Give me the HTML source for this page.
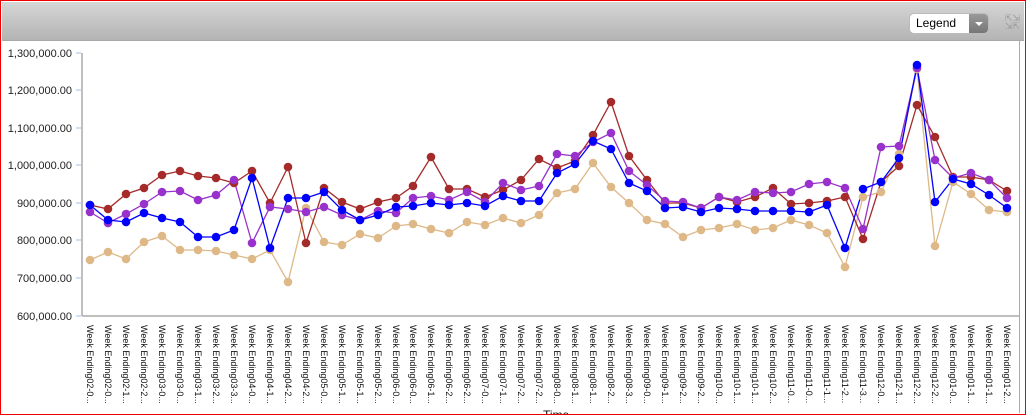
<!DOCTYPE html>
<html><head><meta charset="utf-8"><style>
html,body{margin:0;padding:0;background:#fff}
#w{position:relative;width:1024px;height:413px;border:1px solid #e00;overflow:hidden;font-family:"Liberation Sans",Arial,sans-serif}
#hd{position:absolute;left:1px;top:1px;width:1022px;height:38px;background:linear-gradient(#d6d6d6,#b4b4b4);border-bottom:1px solid #a9a9a9}
#lg{position:absolute;left:907px;top:11px;width:78px;height:19px;border-radius:5px;background:#fff;border:1px solid #bbb;overflow:hidden}
#lg span{position:absolute;left:6px;top:2px;font-size:12px;color:#000}
#lg i{position:absolute;right:0;top:0;width:19px;height:19px;background:linear-gradient(#999,#777)}
#lg i:after{content:"";position:absolute;left:6px;top:8px;border-left:4px solid transparent;border-right:4px solid transparent;border-top:4px solid #fff}
svg{position:absolute;left:0;top:0}
</style></head><body><div id="w">
<div id="hd"><div id="lg"><span>Legend</span><i></i></div>
<div style="position:absolute;left:1003px;top:12px;font-size:9px;color:#999;line-height:8px">⇱⇲<br>⇲⇱</div></div>
<svg width="1024" height="413" viewBox="1 1 1024 413">
<rect x="1019" y="40" width="1" height="373" fill="#aaa"/>
<g font-size="11" fill="#222" text-anchor="end">
<text x="72" y="57">1,300,000.00</text><text x="72" y="94">1,200,000.00</text><text x="72" y="132">1,100,000.00</text><text x="72" y="169">1,000,000.00</text><text x="72" y="207">900,000.00</text><text x="72" y="244">800,000.00</text><text x="72" y="282">700,000.00</text><text x="72" y="320">600,000.00</text>
</g>
<g stroke="#cfe0f0" stroke-width="2"><line x1="76" x2="81" y1="53" y2="53"/><line x1="76" x2="81" y1="90" y2="90"/><line x1="76" x2="81" y1="128" y2="128"/><line x1="76" x2="81" y1="165" y2="165"/><line x1="76" x2="81" y1="203" y2="203"/><line x1="76" x2="81" y1="240" y2="240"/><line x1="76" x2="81" y1="278" y2="278"/><line x1="76" x2="81" y1="316" y2="316"/></g>
<line x1="82" y1="53" x2="82" y2="316" stroke="#aaa" stroke-width="1.5"/>
<line x1="82" y1="316" x2="1019" y2="316" stroke="#aaa" stroke-width="1.5"/>
<g fill="none" stroke-width="1.3">
<polyline stroke="#deb887" points="90,260 108,252 126,259 144,242 162,236 180,250 198,250 216,251 234,255 252,259 270,250 288,282 306,208 324,242 342,245 360,234 378,238 396,226 413,224 431,229 449,233 467,222 485,225 503,218 521,223 539,215 557,193 575,189 593,163 611,187 629,203 647,220 665,224 683,237 701,230 719,228 737,224 755,230 773,228 791,220 809,225 827,233 845,267 863,197 881,192 899,154 917,69 935,246 953,182 971,194 989,210 1007,212"/>
<polyline stroke="#a52a2a" points="90,205 108,209 126,194 144,188 162,175 180,171 198,176 216,178 234,183 252,171 270,203 288,167 306,243 324,188 342,202 360,209 378,202 396,198 413,186 431,157 449,189 467,189 485,197 503,190 521,180 539,159 557,168 575,161 593,135 611,102 629,156 647,180 665,203 683,203 701,208 719,197 737,202 755,197 773,188 791,204 809,203 827,201 845,197 863,239 881,182 899,166 917,105 935,137 953,177 971,177 989,180 1007,191"/>
<polyline stroke="#9932cc" points="90,212 108,223 126,214 144,204 162,192 180,191 198,200 216,195 234,180 252,243 270,207 288,209 306,212 324,207 342,215 360,220 378,211 396,213 413,198 431,196 449,200 467,192 485,202 503,183 521,190 539,186 557,154 575,156 593,142 611,133 629,171 647,185 665,201 683,202 701,208 719,197 737,200 755,192 773,193 791,192 809,184 827,182 845,188 863,229 881,147 899,146 917,68 935,160 953,178 971,173 989,180 1007,198"/>
<polyline stroke="#0000ff" points="90,205 108,220 126,222 144,213 162,218 180,222 198,237 216,237 234,230 252,178 270,248 288,198 306,198 324,192 342,210 360,220 378,215 396,207 413,206 431,203 449,205 467,203 485,206 503,196 521,201 539,201 557,173 575,164 593,141 611,149 629,183 647,191 665,208 683,207 701,212 719,208 737,209 755,211 773,211 791,211 809,212 827,205 845,248 863,189 881,182 899,158 917,65 935,202 953,179 971,184 989,195 1007,208"/>
</g>
<g id="pts"></g>
<g font-size="9" fill="#111" dominant-baseline="central">
<text transform="translate(90,325) rotate(90)">Week Ending02-0...</text>
<text transform="translate(108,325) rotate(90)">Week Ending02-0...</text>
<text transform="translate(126,325) rotate(90)">Week Ending02-1...</text>
<text transform="translate(144,325) rotate(90)">Week Ending02-2...</text>
<text transform="translate(162,325) rotate(90)">Week Ending03-0...</text>
<text transform="translate(180,325) rotate(90)">Week Ending03-0...</text>
<text transform="translate(198,325) rotate(90)">Week Ending03-1...</text>
<text transform="translate(216,325) rotate(90)">Week Ending03-2...</text>
<text transform="translate(234,325) rotate(90)">Week Ending03-3...</text>
<text transform="translate(252,325) rotate(90)">Week Ending04-0...</text>
<text transform="translate(270,325) rotate(90)">Week Ending04-1...</text>
<text transform="translate(288,325) rotate(90)">Week Ending04-2...</text>
<text transform="translate(306,325) rotate(90)">Week Ending04-2...</text>
<text transform="translate(324,325) rotate(90)">Week Ending05-0...</text>
<text transform="translate(342,325) rotate(90)">Week Ending05-1...</text>
<text transform="translate(360,325) rotate(90)">Week Ending05-1...</text>
<text transform="translate(378,325) rotate(90)">Week Ending05-2...</text>
<text transform="translate(396,325) rotate(90)">Week Ending06-0...</text>
<text transform="translate(413,325) rotate(90)">Week Ending06-0...</text>
<text transform="translate(431,325) rotate(90)">Week Ending06-1...</text>
<text transform="translate(449,325) rotate(90)">Week Ending06-2...</text>
<text transform="translate(467,325) rotate(90)">Week Ending06-2...</text>
<text transform="translate(485,325) rotate(90)">Week Ending07-0...</text>
<text transform="translate(503,325) rotate(90)">Week Ending07-1...</text>
<text transform="translate(521,325) rotate(90)">Week Ending07-2...</text>
<text transform="translate(539,325) rotate(90)">Week Ending07-2...</text>
<text transform="translate(557,325) rotate(90)">Week Ending08-0...</text>
<text transform="translate(575,325) rotate(90)">Week Ending08-1...</text>
<text transform="translate(593,325) rotate(90)">Week Ending08-1...</text>
<text transform="translate(611,325) rotate(90)">Week Ending08-2...</text>
<text transform="translate(629,325) rotate(90)">Week Ending08-3...</text>
<text transform="translate(647,325) rotate(90)">Week Ending09-0...</text>
<text transform="translate(665,325) rotate(90)">Week Ending09-1...</text>
<text transform="translate(683,325) rotate(90)">Week Ending09-2...</text>
<text transform="translate(701,325) rotate(90)">Week Ending09-2...</text>
<text transform="translate(719,325) rotate(90)">Week Ending10-0...</text>
<text transform="translate(737,325) rotate(90)">Week Ending10-1...</text>
<text transform="translate(755,325) rotate(90)">Week Ending10-1...</text>
<text transform="translate(773,325) rotate(90)">Week Ending10-2...</text>
<text transform="translate(791,325) rotate(90)">Week Ending11-0...</text>
<text transform="translate(809,325) rotate(90)">Week Ending11-0...</text>
<text transform="translate(827,325) rotate(90)">Week Ending11-1...</text>
<text transform="translate(845,325) rotate(90)">Week Ending11-2...</text>
<text transform="translate(863,325) rotate(90)">Week Ending11-3...</text>
<text transform="translate(881,325) rotate(90)">Week Ending12-0...</text>
<text transform="translate(899,325) rotate(90)">Week Ending12-1...</text>
<text transform="translate(917,325) rotate(90)">Week Ending12-2...</text>
<text transform="translate(935,325) rotate(90)">Week Ending12-2...</text>
<text transform="translate(953,325) rotate(90)">Week Ending01-0...</text>
<text transform="translate(971,325) rotate(90)">Week Ending01-1...</text>
<text transform="translate(989,325) rotate(90)">Week Ending01-1...</text>
<text transform="translate(1007,325) rotate(90)">Week Ending01-2...</text>
</g>
<text x="543" y="419" font-size="12" fill="#111">Time</text>
</svg>
<script>
(function(){
var g=document.getElementById('pts');var ns='http://www.w3.org/2000/svg';
document.querySelectorAll('polyline').forEach(function(p){
 var c=p.getAttribute('stroke');
 p.getAttribute('points').trim().split(/\s+/).forEach(function(s){
  var a=s.split(',');var e=document.createElementNS(ns,'circle');
  e.setAttribute('cx',a[0]);e.setAttribute('cy',a[1]);e.setAttribute('r','4.3');e.setAttribute('fill',c);g.appendChild(e);
 });
});
})();
</script>
</div></body></html>
